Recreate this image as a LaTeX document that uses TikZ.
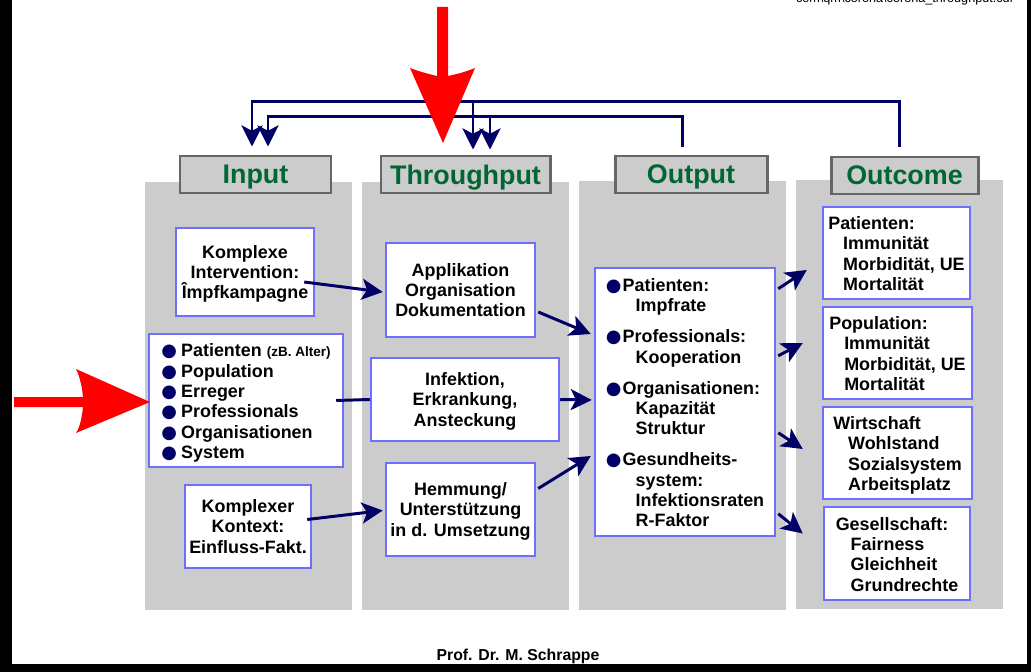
\documentclass[tikz,border=0pt]{standalone}
\usepackage{fontspec}
\setmainfont{Liberation Sans}
\newfontfamily\symfont{DejaVu Sans}
\usetikzlibrary{arrows.meta,calc}
\definecolor{navy}{RGB}{0,0,102}
\definecolor{boxblue}{RGB}{110,110,255}
\definecolor{colgray}{RGB}{204,204,204}
\definecolor{headgreen}{RGB}{0,102,51}
\newcommand{\blt}[1][9.6pt]{\makebox[#1][l]{\textcolor{navy}{\symfont ●}}}
\newcommand{\lines}[1]{\begin{tabular}[b]{@{}l@{}}#1\end{tabular}}
\tikzset{
	pxsize/.style 2 args={minimum width=#1*0.02cm, minimum height=#2*0.02cm},
	head/.style={fill=colgray, draw=black!60, line width=1.7pt, inner sep=0pt, text depth=0pt, text=headgreen, font=\fontsize{15.3}{18}\selectfont\bfseries},
	box/.style={fill=white, draw=boxblue, line width=1.4pt, inner sep=0pt, text depth=0pt, font=\fontsize{10.2}{11.6}\selectfont\bfseries, align=center},
	link/.style={draw=navy, line width=1.7pt},
	flow/.style={link, -{Stealth[length=12pt,width=12pt,inset=3pt]}},
}

\begin{document}
\begin{tikzpicture}[x=0.02cm, y=-0.02cm]
	%%%%% START %%%%%
	\useasboundingbox (0,0) rectangle (1031,672);
	\fill[white] (0,0) rectangle (1031,672);
	\fill[black] (0,0) rectangle (12,672);
	\fill[black] (1027,0) rectangle (1031,672);
	\fill[black] (0,664) rectangle (1031,672);
	
	\node[anchor=base, font=\fontsize{7.2}{8}\selectfont] (fname) at (905,3) {com\textbackslash qm\textbackslash corona\textbackslash corona\_throughput.cdr};
	
	% columns
	\fill[colgray] (145,182) rectangle (352,610);
	\fill[colgray] (362,182) rectangle (569,610);
	\fill[colgray] (579,181) rectangle (786,610);
	\fill[colgray] (796,180) rectangle (1003,609);
	
	\node[head, pxsize={151}{37}] (hin) at (255.5,174.5) {Input};
	\node[head, pxsize={169}{37}] (hthr) at (465.5,174.5) {Throughput};
	\node[head, pxsize={152}{37}] (hout) at (691,174.5) {Output};
	\node[head, pxsize={147}{37}] (hoc) at (904.5,175.5) {Outcome};
	
	% input
	\node[box, pxsize={138}{88}] (kint) at (245,272) {Komplexe\\Intervention:\\Împfkampagne};
	\node[box, pxsize={194}{133}] (ilist) at (246,400.5) {\lines{\blt[11.3pt]Patienten {\fontsize{7.7}{11.6}\selectfont(zB.~Alter)}\\
		\blt[11.3pt]Population\\
		\blt[11.3pt]Erreger\\
		\blt[11.3pt]Professionals\\
		\blt[11.3pt]Organisationen\\
		\blt[11.3pt]System}};
	\node[box, pxsize={126}{83}] (kkon) at (248,526.5) {Komplexer\\Kontext:\\Einfluss-Fakt.};
	
	% throughput
	\node[box, pxsize={149}{94}] (appl) at (460.5,290) {Applikation\\Organisation\\Dokumentation};
	\node[box, pxsize={188}{83}] (infk) at (465,399.5) {Infektion,\\Erkrankung,\\Ansteckung};
	\node[box, pxsize={149}{93}] (hemm) at (460.5,509.5) {Hemmung/\\Unterstützung\\in d. Umsetzung};
	
	% output
	\node[box, pxsize={180}{268}] (outp) at (685,402) {\lines{\blt Patienten:\\
		\hspace*{17pt}Impfrate\\[6pt]
		\blt Professionals:\\
		\hspace*{17pt}Kooperation\\[6pt]
		\blt Organisationen:\\
		\hspace*{17pt}Kapazität\\
		\hspace*{17pt}Struktur\\[6pt]
		\blt Gesundheits-\\
		\hspace*{17pt}system:\\
		\hspace*{17pt}Infektionsraten\\
		\hspace*{17pt}R-Faktor}};
	
	% outcome
	\node[box, pxsize={147}{92}] (opat) at (896.5,253) {\lines{Patienten:\\\hspace*{8.5pt}Immunität\\\hspace*{8.5pt}Morbidität, UE\\\hspace*{8.5pt}Mortalität}};
	\node[box, pxsize={149}{92}] (opop) at (897.5,353) {\lines{Population:\\\hspace*{8.5pt}Immunität\\\hspace*{8.5pt}Morbidität, UE\\\hspace*{8.5pt}Mortalität}};
	\node[box, pxsize={149}{92}] (owirt) at (897.5,453) {\lines{Wirtschaft\\\hspace*{8.5pt}Wohlstand\\\hspace*{8.5pt}Sozialsystem\\\hspace*{8.5pt}Arbeitsplatz}};
	\node[box, pxsize={146}{93}] (oges) at (897,553.5) {\lines{Gesellschaft:\\\hspace*{8.5pt}Fairness\\\hspace*{8.5pt}Gleichheit\\\hspace*{8.5pt}Grundrechte}};
	
	% feedback lines
	\draw[flow] ($(hout.north)+(-9,-8)$) -- ++(0,-30) -| ($(hin.north)+(12.5,-8)$);
	\draw[flow] ($(hoc.north)+(-5.5,-9)$) -- ++(0,-45) -| ($(hin.north)+(-3.5,-8)$);
	\draw[flow] ($(hthr.north)+(7.5,-53)$) -- ($(hthr.north)+(7.5,-5)$);
	\draw[flow] ($(hthr.north)+(24.5,-38)$) -- ($(hthr.north)+(24.5,-5)$);
	
	\draw[flow] ($(kint.east)+(-11,10)$) -- ($(appl.west)+(-2,2)$);
	\draw[flow] ($(kkon.east)+(-5,-7)$) -- ($(hemm.west)+(-2,1)$);
	\draw[link] ($(ilist.east)+(-8,0)$) -- (infk.west);
	
	\draw[flow] ($(appl.east)+(2,22)$) -- ($(outp.west)+(-3,-68)$);
	\draw[flow] (infk.east) -- ($(outp.west)+(-2,-2)$);
	\draw[flow] ($(hemm.east)+(2,-21)$) -- ($(outp.west)+(-3,54)$);
	
	\draw[flow] ($(outp.north east)+(2,22)$) -- ($(opat.west)+(-15,17)$);
	\draw[flow] ($(outp.north east)+(2,89)$) -- ($(opop.west)+(-19,-10)$);
	\draw[flow] ($(outp.north east)+(2,166)$) -- ($(owirt.west)+(-19,-4)$);
	\draw[flow] ($(outp.north east)+(2,247)$) -- ($(oges.west)+(-20,-20)$);
	
	% red arrows
	\fill[red] (437,7) -- (448,7) -- (448,76) .. controls (458,74) and (468,71) .. (475,68) -- (443,143) -- (410,68) .. controls (418,71) and (428,74) .. (437,76) -- cycle;
	\fill[red] (14,397) -- (83,397) .. controls (82,387) and (80,377) .. (76,369) -- (150,402) -- (76,433) .. controls (80,427) and (82,417) .. (83,407) -- (14,407) -- cycle;
	
	\node[font=\fontsize{9}{10}\selectfont\bfseries] (author) at (518,656) {Prof. Dr. M. Schrappe};
	%%%%% END %%%%%
\end{tikzpicture}
\end{document}
